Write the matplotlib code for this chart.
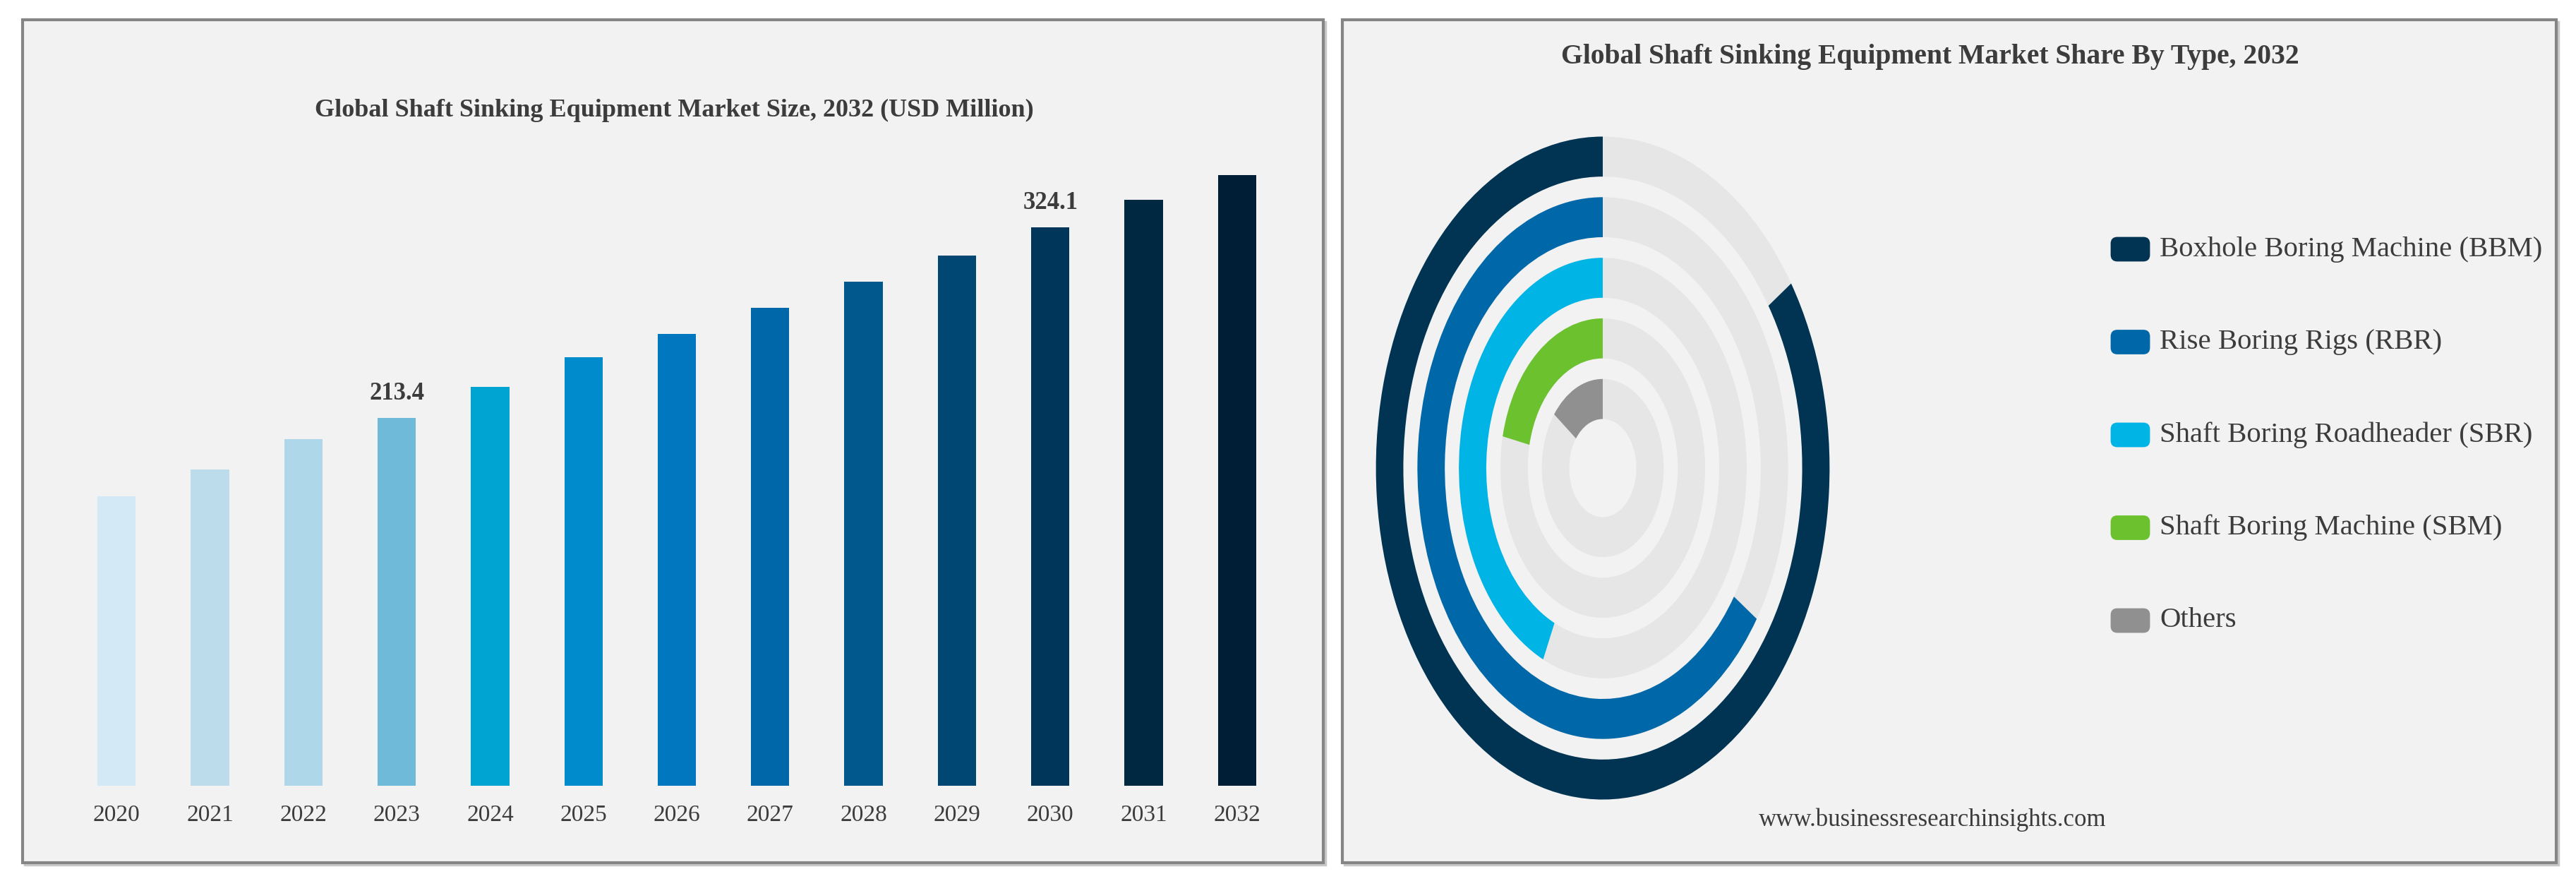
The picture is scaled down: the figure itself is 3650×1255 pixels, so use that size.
import matplotlib
matplotlib.use("Agg")
import matplotlib.pyplot as plt
from matplotlib.patches import Rectangle, Wedge, FancyBboxPatch

# ---- data ----
years = ["2020", "2021", "2022", "2023", "2024", "2025", "2026",
         "2027", "2028", "2029", "2030", "2031", "2032"]
market_size = [168.0, 183.8, 201.2, 213.4, 231.4, 248.8, 262.5,
               277.3, 292.7, 307.8, 324.1, 340.3, 354.4]
bar_colors = ["#d3eaf6", "#bcdcec", "#aed8ea", "#6fb9d9", "#00a4d3",
              "#008ccc", "#0077bf", "#0067a8", "#00588c", "#004873",
              "#00365a", "#002841", "#001f36"]
labelled_years = ["2023", "2030"]

types = ["Boxhole Boring Machine (BBM)", "Rise Boring Rigs (RBR)",
         "Shaft Boring Roadheader (SBR)", "Shaft Boring Machine (SBM)",
         "Others"]
type_share = [84.4, 65.6, 43.2, 21.6, 14.7]   # percent of the full track
type_colors = ["#003452", "#0068a9", "#00b4e6", "#6cc22e", "#909090"]

W, H = 3650, 1255
TXT = "#3c3c3c"
SERIF = "Liberation Serif"

plt.rcParams["font.family"] = SERIF

fig = plt.figure(figsize=(W / 100, H / 100), dpi=100)
fig.patch.set_facecolor("white")


def fbox(x0, y0, x1, y1):
    # pixel box (top-left origin) -> figure fraction rect
    return [x0 / W, 1 - y1 / H, (x1 - x0) / W, (y1 - y0) / H]


# background layer in pixel coords
bg = fig.add_axes([0, 0, 1, 1], zorder=0)
bg.set_xlim(0, W)
bg.set_ylim(H, 0)
bg.axis("off")

for x0, x1 in [(32, 1875), (1902, 3622)]:
    bg.add_patch(Rectangle((x0 + 3, 31), x1 - x0, 1222 - 28,
                           facecolor="none", edgecolor="#c8c8c8", lw=2.5))
    bg.add_patch(Rectangle((x0, 28), x1 - x0, 1222 - 28,
                           facecolor="#f2f2f2", edgecolor="#858585", lw=3))

# titles
bg.text(955, 165, "Global Shaft Sinking Equipment Market Size, 2032 (USD Million)",
        ha="center", va="baseline", fontsize=26, fontweight="bold", color=TXT)
bg.text(2735, 90, "Global Shaft Sinking Equipment Market Share By Type, 2032",
        ha="center", va="baseline", fontsize=28.5, fontweight="bold", color=TXT)
bg.text(2738, 1170, "www.businessresearchinsights.com",
        ha="center", va="baseline", fontsize=25, color=TXT)

# ---- bar chart ----
ax = fig.add_axes(fbox(99, 137, 1819, 1113), zorder=1)
ax.set_facecolor("none")
xs = list(range(len(years)))
ax.bar(xs, market_size, width=0.41, color=bar_colors)
ax.set_xlim(-0.5, len(years) - 0.5)
ax.set_ylim(0, 400)
ax.set_xticks(xs)
ax.set_xticklabels(years, fontsize=24, color=TXT)
ax.tick_params(axis="x", length=0, pad=19)
ax.set_yticks([])
for s in ax.spines.values():
    s.set_visible(False)
for i, (yr, v) in enumerate(zip(years, market_size)):
    if yr in labelled_years:
        ax.annotate(f"{v:.1f}", (i, v), xytext=(0, 13), textcoords="offset points",
                    ha="center", va="bottom", fontsize=25, fontweight="bold",
                    color=TXT)

# ---- radial bar chart ----
rax = fig.add_axes(fbox(1918.5, 148, 2623.5, 1178), zorder=1)
rax.set_xlim(-6, 6)
rax.set_ylim(-6, 6)
rax.set_aspect("auto")
rax.axis("off")
ring_w = 0.66
for i, (share, col) in enumerate(zip(type_share, type_colors)):
    r_out = 5.47 - i
    rax.add_patch(Wedge((0, 0), r_out, 0, 360, width=ring_w,
                        facecolor="#e6e6e6", edgecolor="none"))
    rax.add_patch(Wedge((0, 0), r_out, 90, 90 + 360 * share / 100, width=ring_w,
                        facecolor=col, edgecolor="none"))

# legend
for i, (name, col) in enumerate(zip(types, type_colors)):
    yc = 353 + i * 131.5
    bg.add_patch(FancyBboxPatch((2992, yc - 16), 53, 32,
                                boxstyle="round,pad=0,rounding_size=8",
                                facecolor=col, edgecolor=col, lw=2, zorder=3))
    bg.text(3060, yc, name, ha="left", va="center", fontsize=29.3, color=TXT)

fig.savefig("out.png", dpi=100, facecolor="white")
